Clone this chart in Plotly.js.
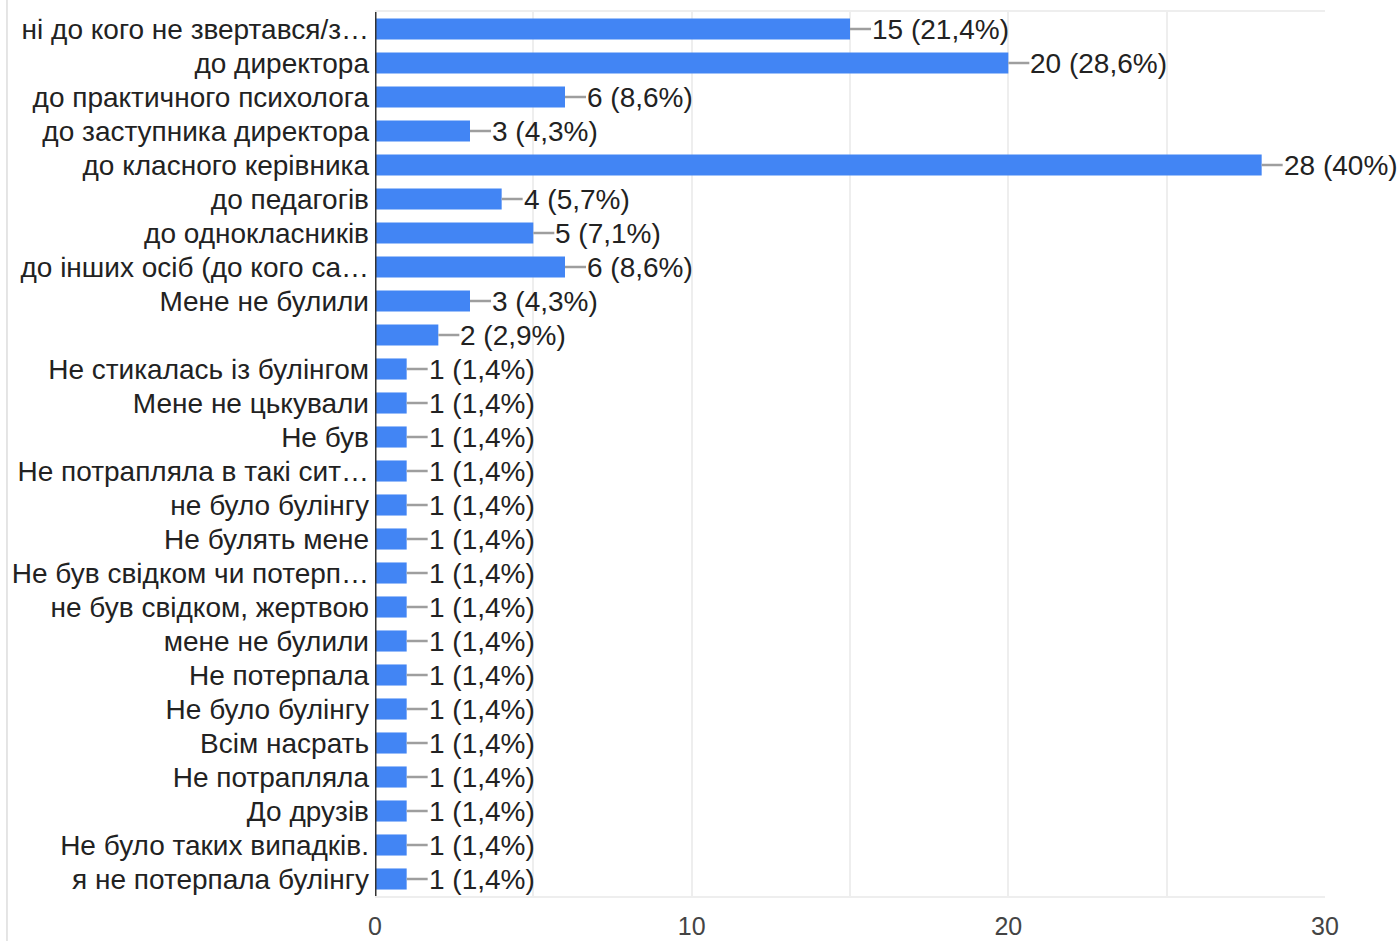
<!DOCTYPE html>
<html><head><meta charset="utf-8">
<script src="https://cdn.plot.ly/plotly-3.0.1.min.js"></script>
<style>html,body{margin:0;padding:0;background:#fff}#chart{width:1399px;height:941px}</style>
</head><body><div id="chart"></div>
<script>
const categories = [
  "ні до кого не звертався/з…",
  "до директора",
  "до практичного психолога",
  "до заступника директора",
  "до класного керівника",
  "до педагогів",
  "до однокласників",
  "до інших осіб (до кого са…",
  "Мене не булили",
  "",
  "Не стикалась із булінгом",
  "Мене не цькували",
  "Не був",
  "Не потрапляла в такі сит…",
  "не було булінгу",
  "Не булять мене",
  "Не був свідком чи потерп…",
  "не був свідком, жертвою",
  "мене не булили",
  "Не потерпала",
  "Не було булінгу",
  "Всім насрать",
  "Не потрапляла",
  "До друзів",
  "Не було таких випадків.",
  "я не потерпала булінгу"
];
const values = [15,20,6,3,28,4,5,6,3,2,1,1,1,1,1,1,1,1,1,1,1,1,1,1,1,1];
const percents = ["21,4%","28,6%","8,6%","4,3%","40%","5,7%","7,1%","8,6%","4,3%","2,9%",
  "1,4%","1,4%","1,4%","1,4%","1,4%","1,4%","1,4%","1,4%","1,4%","1,4%","1,4%","1,4%","1,4%","1,4%","1,4%","1,4%"];
const xTicks = [0,10,20,30];

const idx = categories.map((c,i)=>i);
const FONT = "Liberation Sans, Arial, sans-serif";

const trace = {
  type: 'bar', orientation: 'h',
  x: values, y: idx,
  marker: {color: '#4285f4'},
  hoverinfo: 'none'
};

const annotations = values.map((v,i)=>({
  x: v, y: i, xref: 'x', yref: 'y',
  text: v + ' (' + percents[i] + ')',
  showarrow: true, arrowhead: 0, arrowwidth: 2.5, arrowcolor: '#9e9e9e',
  ax: 21, ay: 0, xanchor: 'left', standoff: 0, borderpad: 0,
  font: {family: FONT, size: 28, color: '#222222'}
}));

const layout = {
  width: 1399, height: 941,
  margin: {l: 375, r: 74, t: 12, b: 45},
  paper_bgcolor: '#fff', plot_bgcolor: '#fff',
  showlegend: false,
  bargap: 0.38,
  font: {family: FONT, size: 28, color: '#222222'},
  xaxis: {
    range: [0, 30], tickvals: xTicks, ticktext: xTicks.map(String),
    showgrid: true, gridcolor: '#eeeeee', gridwidth: 2,
    minor: {dtick: 5, showgrid: true, gridcolor: '#eeeeee', gridwidth: 2},
    zeroline: false, showline: true, linecolor: '#eeeeee', linewidth: 2, mirror: true,
    ticks: '', ticklabelstandoff: 7,
    tickfont: {family: "Liberation Sans Narrow, Liberation Sans, Arial, sans-serif", size: 25, color: '#444444'},
    fixedrange: true
  },
  yaxis: {
    range: [25.5, -0.5], tickvals: idx, ticktext: categories,
    showgrid: false, zeroline: false,
    showline: false, ticks: '', ticklabelstandoff: 5,
    tickfont: {family: FONT, size: 28, color: '#222222'},
    fixedrange: true
  },
  shapes: [
    {type: 'line', xref: 'x', yref: 'paper', x0: 0, x1: 0, y0: 0, y1: 1,
     line: {color: '#333333', width: 3}},
    {type: 'line', xref: 'paper', yref: 'paper', x0: -0.3874, x1: -0.3874, y0: -0.06, y1: 1.02,
     line: {color: '#dddddd', width: 1.5}}
  ],
  annotations: annotations
};

Plotly.newPlot('chart', [trace], layout, {displayModeBar: false, staticPlot: true});
</script></body></html>
